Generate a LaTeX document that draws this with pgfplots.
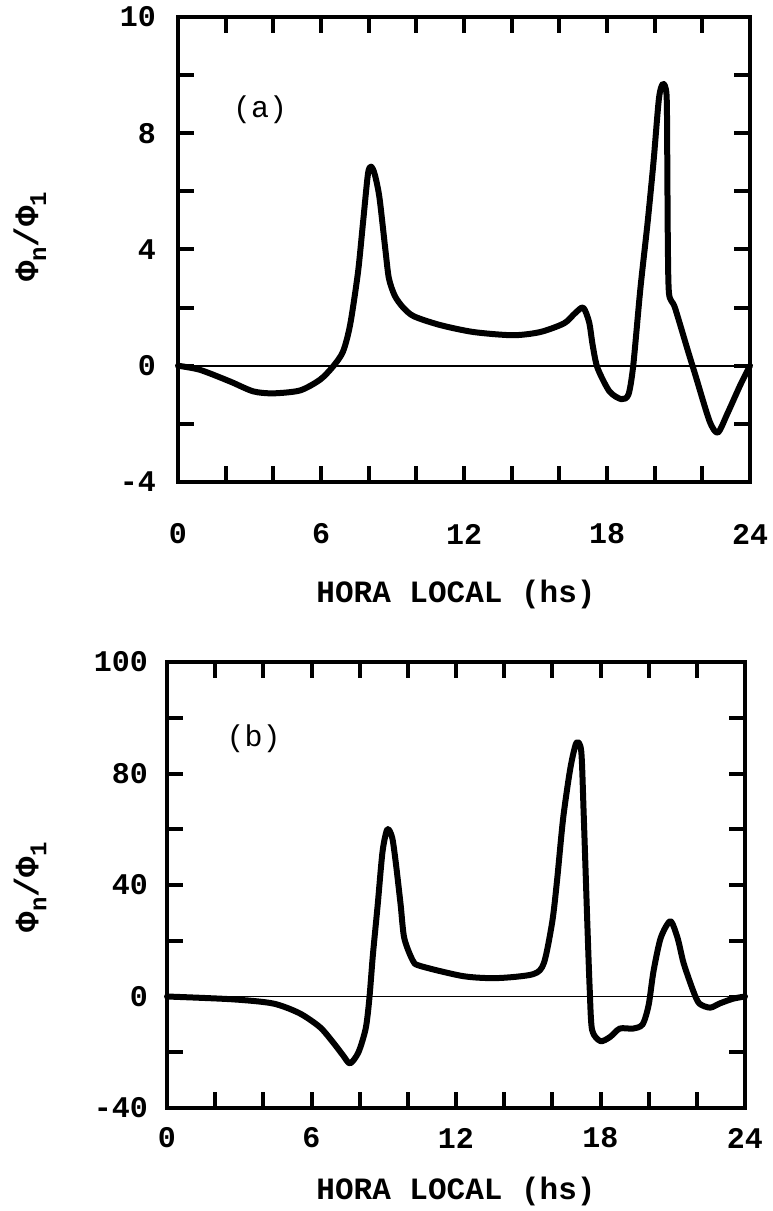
\documentclass[border=0pt]{standalone}
\usepackage{fontspec}
\setmainfont{Liberation Mono}
\usepackage{pgfplots}
\pgfplotsset{compat=1.18}

\pgfplotsset{
  panel/.style={
    scale only axis,
    anchor=south west,
    xmin=0, xmax=24,
    xtick={0,2,...,24},
    xticklabels={0,,,6,,,12,,,18,,,24},
    tick align=inside,
    xtick pos=both, ytick pos=both,
    axis line style={line width=2pt},
    tick style={line width=2pt, black},
    major tick length=8pt,
    tick label style={font=\fontsize{15}{18}\selectfont\bfseries},
    every axis x label/.style={anchor=center, font=\fontsize{15.5}{18}\selectfont\bfseries},
    every axis y label/.style={anchor=center, rotate=90, font=\fontsize{17}{20}\selectfont\bfseries},
    clip=false,
  },
  curve/.style={line width=3pt, black, smooth, tension=0.45, line join=round, line cap=round},
}

\newcommand{\philabel}{Φ\raisebox{-0.45ex}{\fontsize{12}{14}\selectfont n}/Φ\raisebox{-0.45ex}{\fontsize{12}{14}\selectfont 1}}

\begin{document}
\begin{tikzpicture}
\useasboundingbox (0,0) rectangle (386pt,605.5pt);

% ---------------- panel (a) ----------------
\begin{axis}[panel,
  at={(89pt,364.5pt)}, width=286pt, height=232.5pt,
  ymin=-4, ymax=12,
  ytick={-4,-2,...,12},
  yticklabels={-4,,0,,4,,8,,10},
  xticklabel style={anchor=center, yshift=-26pt},
  yticklabel style={anchor=east, xshift=-7.5pt},
  xlabel={HORA LOCAL (hs)},
  xlabel style={at={(axis description cs:0.486,-0.241)}},
  ylabel={\philabel},
  ylabel style={at={(axis description cs:-0.259,0.527)}},
]
\addplot[line width=0.8pt, black] coordinates {(0,0) (24,0)};
\addplot[curve] coordinates {
(0,0) (0.92,-0.14) (2.18,-0.54) (3.15,-0.88) (3.99,-0.95) (5.12,-0.85)
(5.96,-0.48) (6.5,-0.03) (6.92,0.48) (7.22,1.4) (7.55,3.2) (7.76,4.9)
(7.97,6.6) (8.1,6.85) (8.25,6.6) (8.45,5.8) (8.7,4.0) (8.85,3.0) (9.1,2.4)
(9.45,2.0) (9.9,1.7) (11.0,1.4) (12.4,1.16) (14.05,1.05) (15.2,1.16)
(16.2,1.46) (16.65,1.8) (17.0,2.0) (17.25,1.5) (17.4,0.7) (17.6,-0.07)
(18.1,-0.88) (18.6,-1.15) (18.9,-0.99) (19.1,0.0) (19.4,2.65) (19.7,4.9)
(19.95,7.0) (20.18,9.2) (20.35,9.7) (20.5,9.3) (20.53,7.0) (20.55,4.5)
(20.6,2.5) (20.85,2.0) (21.4,0.5) (21.7,-0.3) (22.3,-1.9) (22.65,-2.3)
(23.05,-1.65) (23.6,-0.65) (24,0)
};
\node[font=\fontsize{15}{18}\selectfont] at (axis cs:3.45,8.8) {(a)};
\end{axis}

% ---------------- panel (b) ----------------
\begin{axis}[panel,
  at={(83.5pt,51.5pt)}, width=289pt, height=223pt,
  ymin=-40, ymax=120,
  ytick={-40,-20,...,120},
  yticklabels={-40,,0,,40,,80,,100},
  xticklabel style={anchor=center, yshift=-15pt},
  yticklabel style={anchor=east, xshift=-6pt},
  xlabel={HORA LOCAL (hs)},
  xlabel style={at={(axis description cs:0.5,-0.188)}},
  ylabel={\philabel},
  ylabel style={at={(axis description cs:-0.237,0.495)}},
]
\addplot[line width=0.8pt, black] coordinates {(0,0) (24,0)};
\addplot[curve] coordinates {
(0,0) (2.7,-1) (4.4,-2.5) (5.5,-6) (6.35,-11) (6.9,-16.5) (7.3,-21)
(7.6,-24) (7.95,-20) (8.25,-11.5) (8.4,-1) (8.55,15) (8.75,33) (8.95,52)
(9.15,60) (9.35,57) (9.5,48) (9.7,33) (9.85,21) (10.2,13) (10.5,11)
(12.3,7.3) (13.7,6.6) (15.2,8) (15.65,12) (16.0,27) (16.2,42) (16.45,64)
(16.75,82) (17.0,91) (17.2,88) (17.3,66) (17.45,27) (17.55,3) (17.65,-12)
(18.0,-16) (18.4,-14.5) (18.8,-11.5) (19.35,-11.5) (19.75,-10) (20.0,-3)
(20.2,9) (20.5,21) (20.9,27) (21.2,21) (21.45,12) (21.85,2) (22.1,-2.5)
(22.55,-4) (22.95,-2.5) (23.5,-0.8) (24,0)
};
\node[font=\fontsize{15}{18}\selectfont] at (axis cs:3.6,92.5) {(b)};
\end{axis}
\end{tikzpicture}
\end{document}
